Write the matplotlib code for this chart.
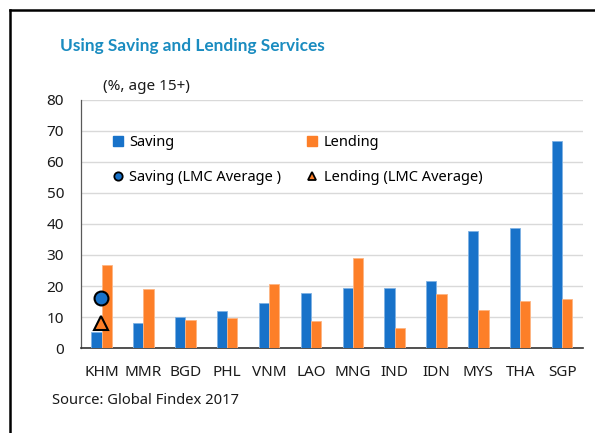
import matplotlib
matplotlib.use("Agg")
import matplotlib.pyplot as plt
import numpy as np
from matplotlib.lines import Line2D

categories = ["KHM", "MMR", "BGD", "PHL", "VNM", "LAO", "MNG", "IND", "IDN", "MYS", "THA", "SGP"]
saving = [5.4, 8.1, 10.0, 12.0, 14.5, 17.9, 19.4, 19.4, 21.7, 37.8, 38.7, 66.8]
lending = [26.8, 19.1, 9.2, 9.7, 20.7, 8.8, 29.0, 6.6, 17.3, 12.3, 15.2, 15.7]
saving_lmc_avg = 16.1
lending_lmc_avg = 8.2
yticks = [0, 10, 20, 30, 40, 50, 60, 70, 80]

BLUE = "#1872c9"
ORANGE = "#fd7f28"
TITLE = "#1a8cc0"
FONT = "Noto Sans"

plt.rcParams["font.family"] = [FONT, "DejaVu Sans"]

fig = plt.figure(figsize=(5.95, 4.33), dpi=100)
L, R, B, T = 80.7, 583, 348.3, 99.5
ax = fig.add_axes([L/595, 1-B/433, (R-L)/595, (B-T)/433])

x = np.arange(len(categories))
w = 0.245
ax.bar(x - w/2, saving, width=w, color=BLUE, edgecolor="#7fb2e3", linewidth=0.6, zorder=3)
ax.bar(x + w/2, lending, width=w, color=ORANGE, edgecolor="#fdb583", linewidth=0.6, zorder=3)
ax.plot([x[0] - 0.02], [saving_lmc_avg], marker="o", markersize=10, color=BLUE,
        markeredgecolor="black", markeredgewidth=1.5, linestyle="none", zorder=4)
ax.plot([x[0] - 0.02], [lending_lmc_avg], marker="^", markersize=9.5, color=ORANGE,
        markeredgecolor="black", markeredgewidth=1.5, linestyle="none", zorder=4)

ax.set_xlim(-0.5, 11.5)
ax.set_ylim(0, 80)
ax.set_yticks(yticks)
ax.set_xticks(x)
ax.set_xticklabels(categories)
ax.tick_params(axis="both", length=0, labelsize=11, colors="#1a1a1a")
ax.tick_params(axis="x", pad=12)
ax.tick_params(axis="y", pad=12)
ax.grid(axis="y", color="#d9d9d9", linewidth=1.0, zorder=0)
for s in ["top", "right"]:
    ax.spines[s].set_visible(False)
ax.spines["left"].set_color("#595959")
ax.spines["left"].set_linewidth(0.9)
ax.spines["bottom"].set_color("#333333")
ax.spines["bottom"].set_linewidth(1.2)

handles = [
    Line2D([], [], marker="s", color=BLUE, linestyle="none", markersize=7),
    Line2D([], [], marker="o", color=BLUE, markeredgecolor="black", markeredgewidth=1.3, linestyle="none", markersize=6),
    Line2D([], [], marker="s", color=ORANGE, linestyle="none", markersize=7),
    Line2D([], [], marker="^", color=ORANGE, markeredgecolor="black", markeredgewidth=1.3, linestyle="none", markersize=6),
]
labels = ["Saving", "Saving (LMC Average )", "Lending", "Lending (LMC Average)"]
ax.legend(handles, labels, ncol=2, loc="upper left", bbox_to_anchor=(0.0504, 0.881),
          frameon=False, fontsize=10.5, handlelength=0.8, handletextpad=0.4,
          labelspacing=1.36, columnspacing=1.7, borderaxespad=0)

fig.text(60/595, 1-46.5/433, "Using Saving and Lending Services", fontsize=12.4, fontweight="bold",
         color=TITLE, va="center", ha="left", family=["Lato", "DejaVu Sans"])
fig.text(103/595, 1-86/433, "(%, age 15+)", fontsize=11, color="#1a1a1a", va="center", ha="left")
fig.text(52/595, 1-400/433, "Source: Global Findex 2017", fontsize=10.6, color="#1a1a1a", va="center", ha="left")

# outer frame (left and top edges)
fig.add_artist(Line2D([9.5/595, 9.5/595], [0, 1-10/433], color="black", linewidth=1.8, transform=fig.transFigure))
fig.add_artist(Line2D([9.5/595, 1], [1-10/433, 1-10/433], color="black", linewidth=1.8, transform=fig.transFigure))

fig.savefig("out.png", dpi=100)
